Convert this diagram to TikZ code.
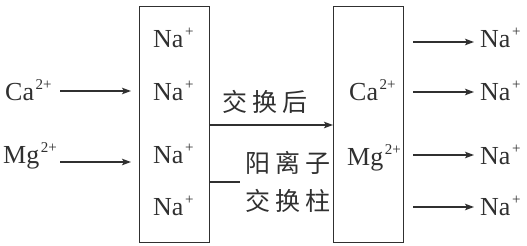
\documentclass[tikz,border=0pt]{standalone}
\usepackage{fontspec}
\setmainfont{Liberation Serif}
\newfontfamily\cjk{Noto Sans CJK SC}
\usetikzlibrary{arrows.meta}
\definecolor{ink}{HTML}{303030}
\newcommand\ionup[1]{\kern1.5pt\raisebox{11pt}{\fontsize{15}{15}\selectfont #1}}
\begin{document}
\begin{tikzpicture}[x=1pt,y=-1pt,
  ion/.style={inner sep=0pt, anchor=base west, font=\fontsize{26}{26}\selectfont, text=ink},
  cn/.style={inner sep=0pt, font=\cjk\fontsize{25}{25}\selectfont, text=ink},
  box/.style={draw=ink, line width=1.3pt, inner sep=0pt, anchor=north west, minimum width=70pt, minimum height=236pt},
  ln/.style={draw=ink, line width=1.3pt},
  arr/.style={ln, -{Stealth[length=9pt,width=6.5pt,inset=2pt]}}]
\useasboundingbox (0,0) rectangle (527,246);
% columns
\node[box] (col1) at (139,6) {};
\node[box] (col2) at (333,6) {};
% left ions
\node[ion] (ca1) at (5,100) {Ca\ionup{2+}};
\node[ion] (mg1) at (3,163) {Mg\ionup{2+}};
% Na+ in first column
\node[ion] (na1) at (153,48) {Na\ionup{+}};
\node[ion] (na2) at (153,100) {Na\ionup{+}};
\node[ion] (na3) at (153,163) {Na\ionup{+}};
\node[ion] (na4) at (153,215) {Na\ionup{+}};
% second column ions
\node[ion] (ca2) at (349,100) {Ca\ionup{2+}};
\node[ion] (mg2) at (347,165) {Mg\ionup{2+}};
% right Na+
\node[ion] (ra1) at (480,48) {Na\ionup{+}};
\node[ion] (ra2) at (480,100) {Na\ionup{+}};
\node[ion] (ra3) at (480,164) {Na\ionup{+}};
\node[ion] (ra4) at (480,215) {Na\ionup{+}};
% Chinese labels
\node[cn] (t1) at (265,102) {交\hspace{5pt}换\hspace{5pt}后};
\node[cn] (t2) at (288,163) {阳\hspace{5pt}离\hspace{5pt}子};
\node[cn] (t3) at (288,201) {交\hspace{5pt}换\hspace{5pt}柱};
% arrows into column 1
\draw[arr] (60,91) -- ([xshift=-8pt]col1.west |- 0,91);
\draw[arr] (60,162) -- ([xshift=-8pt]col1.west |- 0,162);
% arrow between columns
\draw[arr] (col1.east |- 0,125) -- (col2.west |- 0,125);
\draw[ln] (col1.east |- 0,182) -- ([xshift=30pt]col1.east |- 0,182);
% arrows out
\draw[arr] ([xshift=9pt]col2.east |- 0,42) -- ([xshift=-6pt]ra1.west |- 0,42);
\draw[arr] ([xshift=9pt]col2.east |- 0,92) -- ([xshift=-6pt]ra2.west |- 0,92);
\draw[arr] ([xshift=9pt]col2.east |- 0,155) -- ([xshift=-6pt]ra3.west |- 0,155);
\draw[arr] ([xshift=9pt]col2.east |- 0,207) -- ([xshift=-6pt]ra4.west |- 0,207);
\end{tikzpicture}
\end{document}
